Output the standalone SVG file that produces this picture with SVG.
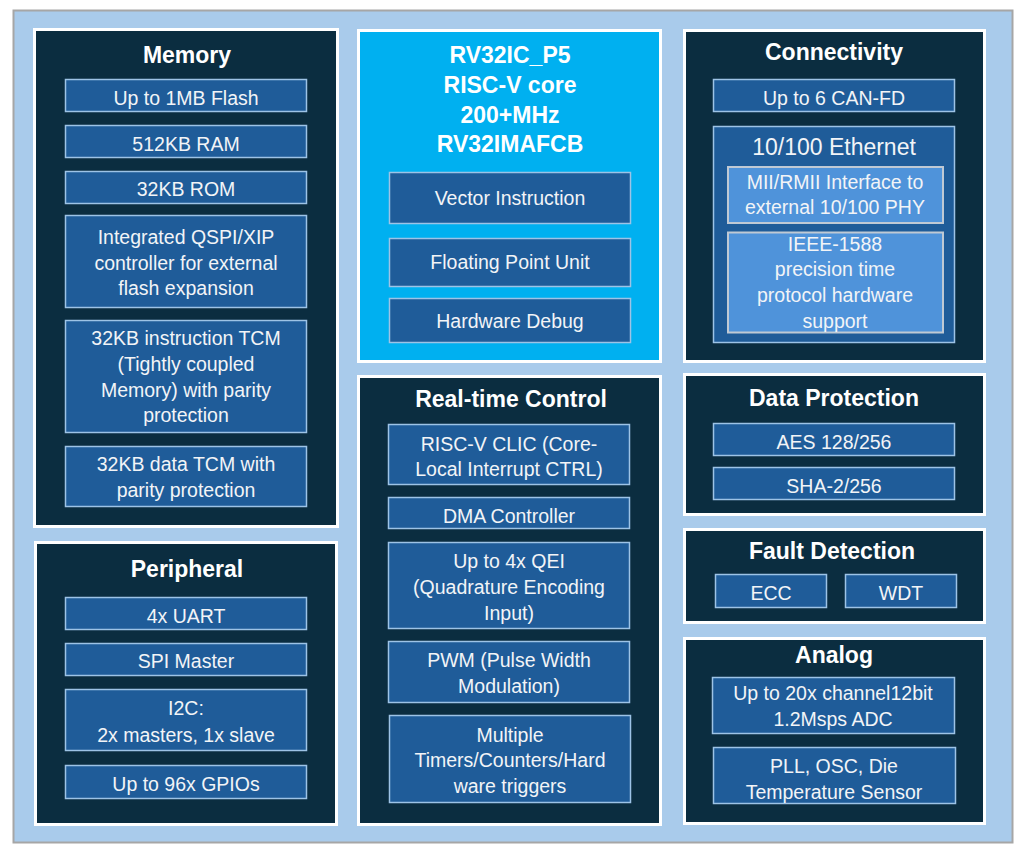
<svg xmlns="http://www.w3.org/2000/svg" width="1024" height="852" viewBox="0 0 1024 852">
<style>
.panel{fill:#0B2D40;stroke:#FFFFFF;stroke-width:3}
.core{fill:#00B0F0;stroke:#FFFFFF;stroke-width:3}
.item{fill:#1F5C99;stroke:#9DC3E6;stroke-width:1.5}
.sub{fill:#4F93DA;stroke:#BFC9D4;stroke-width:2}
.title{font-family:"Liberation Sans",Arial,sans-serif;font-weight:bold;font-size:23px;fill:#FFFFFF;text-anchor:middle}
.t{font-family:"Liberation Sans",Arial,sans-serif;font-size:19.5px;fill:#F2F4F7;text-anchor:middle}
.eth{font-family:"Liberation Sans",Arial,sans-serif;font-size:23px;fill:#F2F4F7;text-anchor:middle}
</style>
<rect x="0" y="0" width="1024" height="852" fill="#FFFFFF"/>
<rect x="13.5" y="10.5" width="999" height="832" fill="#A9CBEB" stroke="#A6A6A6" stroke-width="2"/>

<g id="memory">
<rect class="panel" x="34.5" y="29.5" width="303" height="497"/>
<text class="title" x="187" y="63">Memory</text>
<rect class="item" x="65.5" y="79.5" width="241" height="32"/>
<text class="t" x="186" y="105">Up to 1MB Flash</text>
<rect class="item" x="65.5" y="125.5" width="241" height="32"/>
<text class="t" x="186" y="151">512KB RAM</text>
<rect class="item" x="65.5" y="171.5" width="241" height="32"/>
<text class="t" x="186" y="196">32KB ROM</text>
<rect class="item" x="65.5" y="215.5" width="241" height="92"/>
<text class="t" x="186" y="244">Integrated QSPI/XIP</text>
<text class="t" x="186" y="269.5">controller for external</text>
<text class="t" x="186" y="295">flash expansion</text>
<rect class="item" x="65.5" y="320.5" width="241" height="112"/>
<text class="t" x="186" y="345">32KB instruction TCM</text>
<text class="t" x="186" y="370.7">(Tightly coupled</text>
<text class="t" x="186" y="396.5">Memory) with parity</text>
<text class="t" x="186" y="422.3">protection</text>
<rect class="item" x="65.5" y="446.5" width="241" height="60"/>
<text class="t" x="186" y="471">32KB data TCM with</text>
<text class="t" x="186" y="496.7">parity protection</text>
</g>

<g id="core">
<rect class="core" x="358.5" y="30.5" width="302" height="331"/>
<text class="title" x="510" y="63">RV32IC_P5</text>
<text class="title" x="510" y="93">RISC-V core</text>
<text class="title" x="510" y="122.5">200+MHz</text>
<text class="title" x="510" y="152">RV32IMAFCB</text>
<rect class="item" x="389.5" y="172.5" width="241" height="51"/>
<text class="t" x="510" y="205">Vector Instruction</text>
<rect class="item" x="389.5" y="238.5" width="241" height="48"/>
<text class="t" x="510" y="268.5">Floating Point Unit</text>
<rect class="item" x="389.5" y="298.5" width="241" height="44"/>
<text class="t" x="510" y="327.5">Hardware Debug</text>
</g>

<g id="connectivity">
<rect class="panel" x="684.5" y="30.5" width="300" height="331"/>
<text class="title" x="834" y="60">Connectivity</text>
<rect class="item" x="713.5" y="79.5" width="241" height="32"/>
<text class="t" x="834" y="105">Up to 6 CAN-FD</text>
<rect class="item" x="713.5" y="126.5" width="241" height="216"/>
<text class="eth" x="834" y="155">10/100 Ethernet</text>
<rect class="sub" x="728" y="167" width="215" height="56"/>
<text class="t" x="835" y="188.5">MII/RMII Interface to</text>
<text class="t" x="835" y="214">external 10/100 PHY</text>
<rect class="sub" x="728" y="232.5" width="215" height="100"/>
<text class="t" x="835" y="250.7">IEEE-1588</text>
<text class="t" x="835" y="276.4">precision time</text>
<text class="t" x="835" y="302.1">protocol hardware</text>
<text class="t" x="835" y="327.8">support</text>
</g>

<g id="peripheral">
<rect class="panel" x="35.5" y="542.5" width="301" height="282"/>
<text class="title" x="187" y="577">Peripheral</text>
<rect class="item" x="65.5" y="597.5" width="241" height="32"/>
<text class="t" x="186" y="622.5">4x UART</text>
<rect class="item" x="65.5" y="643.5" width="241" height="32"/>
<text class="t" x="186" y="668">SPI Master</text>
<rect class="item" x="65.5" y="689.5" width="241" height="61"/>
<text class="t" x="186" y="715">I2C:</text>
<text class="t" x="186" y="741.5">2x masters, 1x slave</text>
<rect class="item" x="65.5" y="765.5" width="241" height="33"/>
<text class="t" x="186" y="790.5">Up to 96x GPIOs</text>
</g>

<g id="realtime">
<rect class="panel" x="358.5" y="376.5" width="302" height="448"/>
<text class="title" x="511" y="407">Real-time Control</text>
<rect class="item" x="388.5" y="424.5" width="241" height="60"/>
<text class="t" x="509" y="450.5">RISC-V CLIC (Core-</text>
<text class="t" x="509" y="476">Local Interrupt CTRL)</text>
<rect class="item" x="388.5" y="497.5" width="241" height="31"/>
<text class="t" x="509" y="523">DMA Controller</text>
<rect class="item" x="388.5" y="542.5" width="241" height="86"/>
<text class="t" x="509" y="568.3">Up to 4x QEI</text>
<text class="t" x="509" y="594">(Quadrature Encoding</text>
<text class="t" x="509" y="619.5">Input)</text>
<rect class="item" x="388.5" y="641.5" width="241" height="61"/>
<text class="t" x="509" y="666.7">PWM (Pulse Width</text>
<text class="t" x="509" y="692.5">Modulation)</text>
<rect class="item" x="389.5" y="715.5" width="241" height="87"/>
<text class="t" x="510" y="741.7">Multiple</text>
<text class="t" x="510" y="767.3">Timers/Counters/Hard</text>
<text class="t" x="510" y="792.8">ware triggers</text>
</g>

<g id="dataprotection">
<rect class="panel" x="684.5" y="374.5" width="300" height="140"/>
<text class="title" x="834" y="406">Data Protection</text>
<rect class="item" x="713.5" y="423.5" width="241" height="32"/>
<text class="t" x="834" y="449">AES 128/256</text>
<rect class="item" x="713.5" y="467.5" width="241" height="32"/>
<text class="t" x="834" y="493">SHA-2/256</text>
</g>

<g id="faultdetection">
<rect class="panel" x="684.5" y="529.5" width="300" height="93"/>
<text class="title" x="832" y="559">Fault Detection</text>
<rect class="item" x="715.5" y="574.5" width="111" height="33"/>
<text class="t" x="771" y="600">ECC</text>
<rect class="item" x="845.5" y="574.5" width="111" height="33"/>
<text class="t" x="901" y="600">WDT</text>
</g>

<g id="analog">
<rect class="panel" x="684.5" y="638.5" width="300" height="185"/>
<text class="title" x="834" y="663">Analog</text>
<rect class="item" x="712.5" y="677.5" width="242" height="56"/>
<text class="t" x="833" y="700">Up to 20x channel12bit</text>
<text class="t" x="833" y="726">1.2Msps ADC</text>
<rect class="item" x="713.5" y="747.5" width="242" height="56"/>
<text class="t" x="834" y="773">PLL, OSC, Die</text>
<text class="t" x="834" y="798.5">Temperature Sensor</text>
</g>

<g id="connectors"></g>
</svg>
